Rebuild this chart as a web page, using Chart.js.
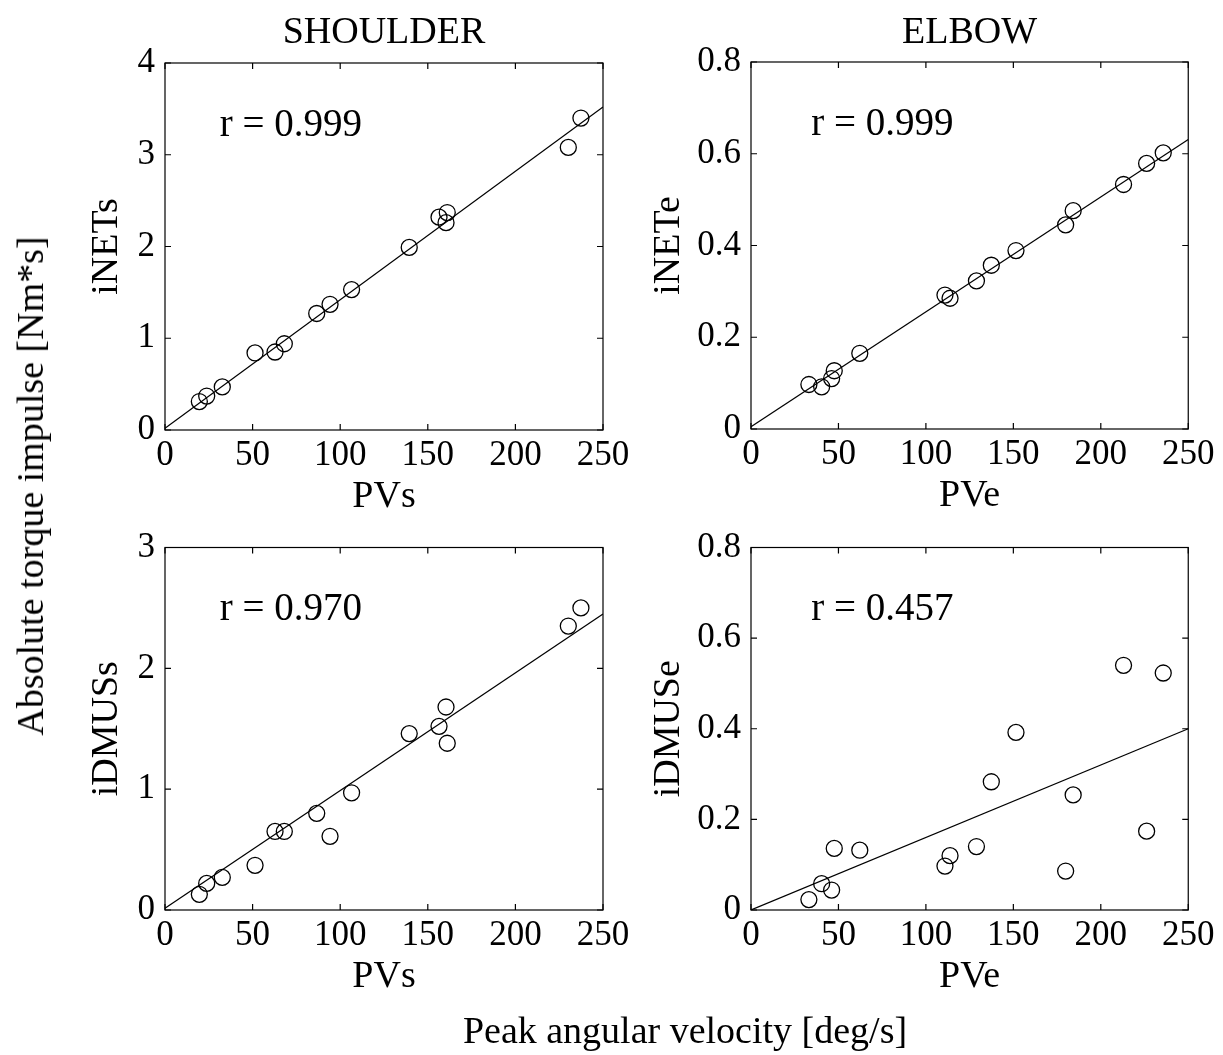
<!DOCTYPE html>
<html>
<head>
<meta charset="utf-8">
<title>Torque impulse vs peak angular velocity</title>
<script src="https://cdn.jsdelivr.net/npm/chart.js@4"></script>
<style>
  html, body { margin: 0; padding: 0; background: #fff; }
  body {
    width: 1223px;
    height: 1055px;
    position: relative;
    overflow: hidden;
    font-family: 'Liberation Serif', 'Times New Roman', serif;
  }
  .panel { position: absolute; }
  .label {
    position: absolute;
    font-size: 38px;
    line-height: 1;
    color: #000;
    white-space: nowrap;
  }
  #ylab { left: 30px; top: 486px; transform: translate(-50%, -50%) rotate(-90deg); }
  #xlab { left: 685px; top: 1030px; transform: translate(-50%, -50%); }
</style>
</head>
<body>
<div class="panel" style="left:0;top:0"><canvas id="c0" width="640" height="520"></canvas></div>
<div class="panel" style="left:640px;top:0"><canvas id="c1" width="583" height="520"></canvas></div>
<div class="panel" style="left:0;top:520px"><canvas id="c2" width="640" height="535"></canvas></div>
<div class="panel" style="left:640px;top:520px"><canvas id="c3" width="583" height="535"></canvas></div>
<div class="label" id="ylab">Absolute torque impulse [Nm*s]</div>
<div class="label" id="xlab">Peak angular velocity [deg/s]</div>

<script>
// peak angular velocity per trial (deg/s)
const pvS = [19.6, 23.8, 32.7, 51.4, 62.8, 68.1, 86.6, 94.2, 106.5, 139.4, 156.4, 161.1, 160.4, 230.2, 237.4];
const pvE = [33.1, 40.4, 46.1, 47.6, 62.2, 110.9, 113.8, 128.9, 137.4, 151.5, 179.9, 184.2, 213.0, 226.2, 235.7];

// torque impulses (Nm*s)
const iNETs  = [0.31, 0.37, 0.47, 0.84, 0.85, 0.94, 1.27, 1.37, 1.53, 1.99, 2.32, 2.37, 2.26, 3.08, 3.40];
const iDMUSs = [0.13, 0.22, 0.27, 0.37, 0.65, 0.65, 0.80, 0.61, 0.97, 1.46, 1.52, 1.38, 1.68, 2.35, 2.50];
const iNETe  = [0.097, 0.092, 0.110, 0.127, 0.165, 0.292, 0.285, 0.323, 0.357, 0.389, 0.445, 0.476, 0.533, 0.579, 0.602];
const iDMUSe = [0.023, 0.058, 0.044, 0.136, 0.132, 0.097, 0.120, 0.140, 0.283, 0.392, 0.086, 0.254, 0.540, 0.174, 0.523];

// regression lines, value at x = 0 and x = 250
const fitX = [0, 250];
const fitNETs  = [0.02, 3.52];
const fitDMUSs = [0.014, 2.45];
const fitNETe  = [0.005, 0.631];
const fitDMUSe = [0.0, 0.40];

const rValues = ['0.999', '0.999', '0.970', '0.457'];

const xTicks = [0, 50, 100, 150, 200, 250];
const yTicksNETs = [0, 1, 2, 3, 4];
const yTicksDMUSs = [0, 1, 2, 3];
const yTicksElbow = [0, 0.2, 0.4, 0.6, 0.8];

const FONT = "'Liberation Serif', 'Times New Roman', serif";

const pts = (xs, ys) => xs.map((x, i) => ({ x, y: ys[i] }));

// box round the plot area, inward ticks on all four sides, r label
const framePlugin = {
  id: 'frame',
  afterDraw(chart, args, opts) {
    const { ctx, chartArea: a, scales: { x, y } } = chart;
    const len = 6;
    ctx.save();
    ctx.strokeStyle = '#000';
    ctx.lineWidth = 1.2;
    ctx.strokeRect(a.left, a.top, a.right - a.left, a.bottom - a.top);
    ctx.beginPath();
    x.ticks.forEach(t => {
      const px = x.getPixelForValue(t.value);
      ctx.moveTo(px, a.bottom); ctx.lineTo(px, a.bottom - len);
      ctx.moveTo(px, a.top); ctx.lineTo(px, a.top + len);
    });
    y.ticks.forEach(t => {
      const py = y.getPixelForValue(t.value);
      ctx.moveTo(a.left, py); ctx.lineTo(a.left + len, py);
      ctx.moveTo(a.right, py); ctx.lineTo(a.right - len, py);
    });
    ctx.stroke();

    ctx.fillStyle = '#000';
    ctx.font = '39px ' + FONT;
    ctx.textBaseline = 'alphabetic';
    const tx = x.getPixelForValue(x.min + (x.max - x.min) * opts.fx);
    const ty = y.getPixelForValue(y.min + (y.max - y.min) * 0.8);
    ctx.fillText('r = ' + opts.r, tx, ty);
    ctx.restore();
  }
};

function makePanel(id, cfg) {
  const datasets = [
    {
      type: 'line',
      data: pts(fitX, cfg.fit),
      borderColor: '#000',
      borderWidth: 1.2,
      pointRadius: 0,
      fill: false
    },
    {
      type: 'scatter',
      data: pts(cfg.xs, cfg.ys),
      pointStyle: 'circle',
      pointRadius: 8,
      borderColor: '#000',
      borderWidth: 1.3,
      backgroundColor: 'rgba(0,0,0,0)'
    }
  ];

  return new Chart(document.getElementById(id), {
    data: { datasets },
    plugins: [framePlugin],
    options: {
      responsive: false,
      animation: false,
      events: [],
      layout: { padding: cfg.padding },
      plugins: {
        legend: { display: false },
        tooltip: { enabled: false },
        title: {
          display: !!cfg.title,
          text: cfg.title || '',
          fullSize: false,
          color: '#000',
          font: { family: FONT, size: 38, weight: 'normal', lineHeight: 1 },
          padding: cfg.titlePad || 0
        },
        frame: { r: cfg.r, fx: cfg.fx }
      },
      scales: {
        x: {
          type: 'linear',
          position: 'bottom',
          min: 0,
          max: 250,
          grid: { display: false, drawTicks: false },
          border: { display: false },
          afterBuildTicks: s => { s.ticks = xTicks.map(v => ({ value: v })); },
          afterFit: s => { s.height = 86; },
          ticks: {
            autoSkip: false,
            maxRotation: 0,
            padding: 8.5,
            color: '#000',
            font: { family: FONT, size: 35, lineHeight: 1 },
            callback: v => String(v)
          },
          title: {
            display: true,
            text: cfg.xTitle,
            color: '#000',
            padding: 0,
            font: { family: FONT, size: 38, lineHeight: 1 }
          }
        },
        y: {
          type: 'linear',
          position: 'left',
          min: 0,
          max: cfg.yTicks[cfg.yTicks.length - 1],
          grid: { display: false, drawTicks: false },
          border: { display: false },
          afterBuildTicks: s => { s.ticks = cfg.yTicks.map(v => ({ value: v })); },
          afterFit: s => { s.width = cfg.yWidth; },
          ticks: {
            autoSkip: false,
            padding: 10,
            color: '#000',
            font: { family: FONT, size: 35, lineHeight: 1 },
            callback: v => String(v)
          },
          title: {
            display: true,
            text: cfg.yTitle,
            color: '#000',
            padding: 0,
            font: { family: FONT, size: 38, lineHeight: 1 }
          }
        }
      }
    }
  });
}

makePanel('c0', {
  title: 'SHOULDER', titlePad: { top: 14, bottom: 11 },
  xs: pvS, ys: iNETs, fit: fitNETs, r: rValues[0], fx: 0.125,
  xTitle: 'PVs', yTitle: 'iNETs', yTicks: yTicksNETs,
  yWidth: 77, padding: { left: 88, right: 37, top: 0, bottom: 4 }
});

makePanel('c1', {
  title: 'ELBOW', titlePad: { top: 14, bottom: 10 },
  xs: pvE, ys: iNETe, fit: fitNETe, r: rValues[1], fx: 0.138,
  xTitle: 'PVe', yTitle: 'iNETe', yTicks: yTicksElbow,
  yWidth: 101, padding: { left: 10, right: 31, top: 0, bottom: 5 }
});

makePanel('c2', {
  xs: pvS, ys: iDMUSs, fit: fitDMUSs, r: rValues[2], fx: 0.125,
  xTitle: 'PVs', yTitle: 'iDMUSs', yTicks: yTicksDMUSs,
  yWidth: 77, padding: { left: 88, right: 37, top: 23, bottom: 59 }
});

makePanel('c3', {
  xs: pvE, ys: iDMUSe, fit: fitDMUSe, r: rValues[3], fx: 0.138,
  xTitle: 'PVe', yTitle: 'iDMUSe', yTicks: yTicksElbow,
  yWidth: 101, padding: { left: 10, right: 31, top: 23, bottom: 59 }
});
</script>
</body>
</html>
